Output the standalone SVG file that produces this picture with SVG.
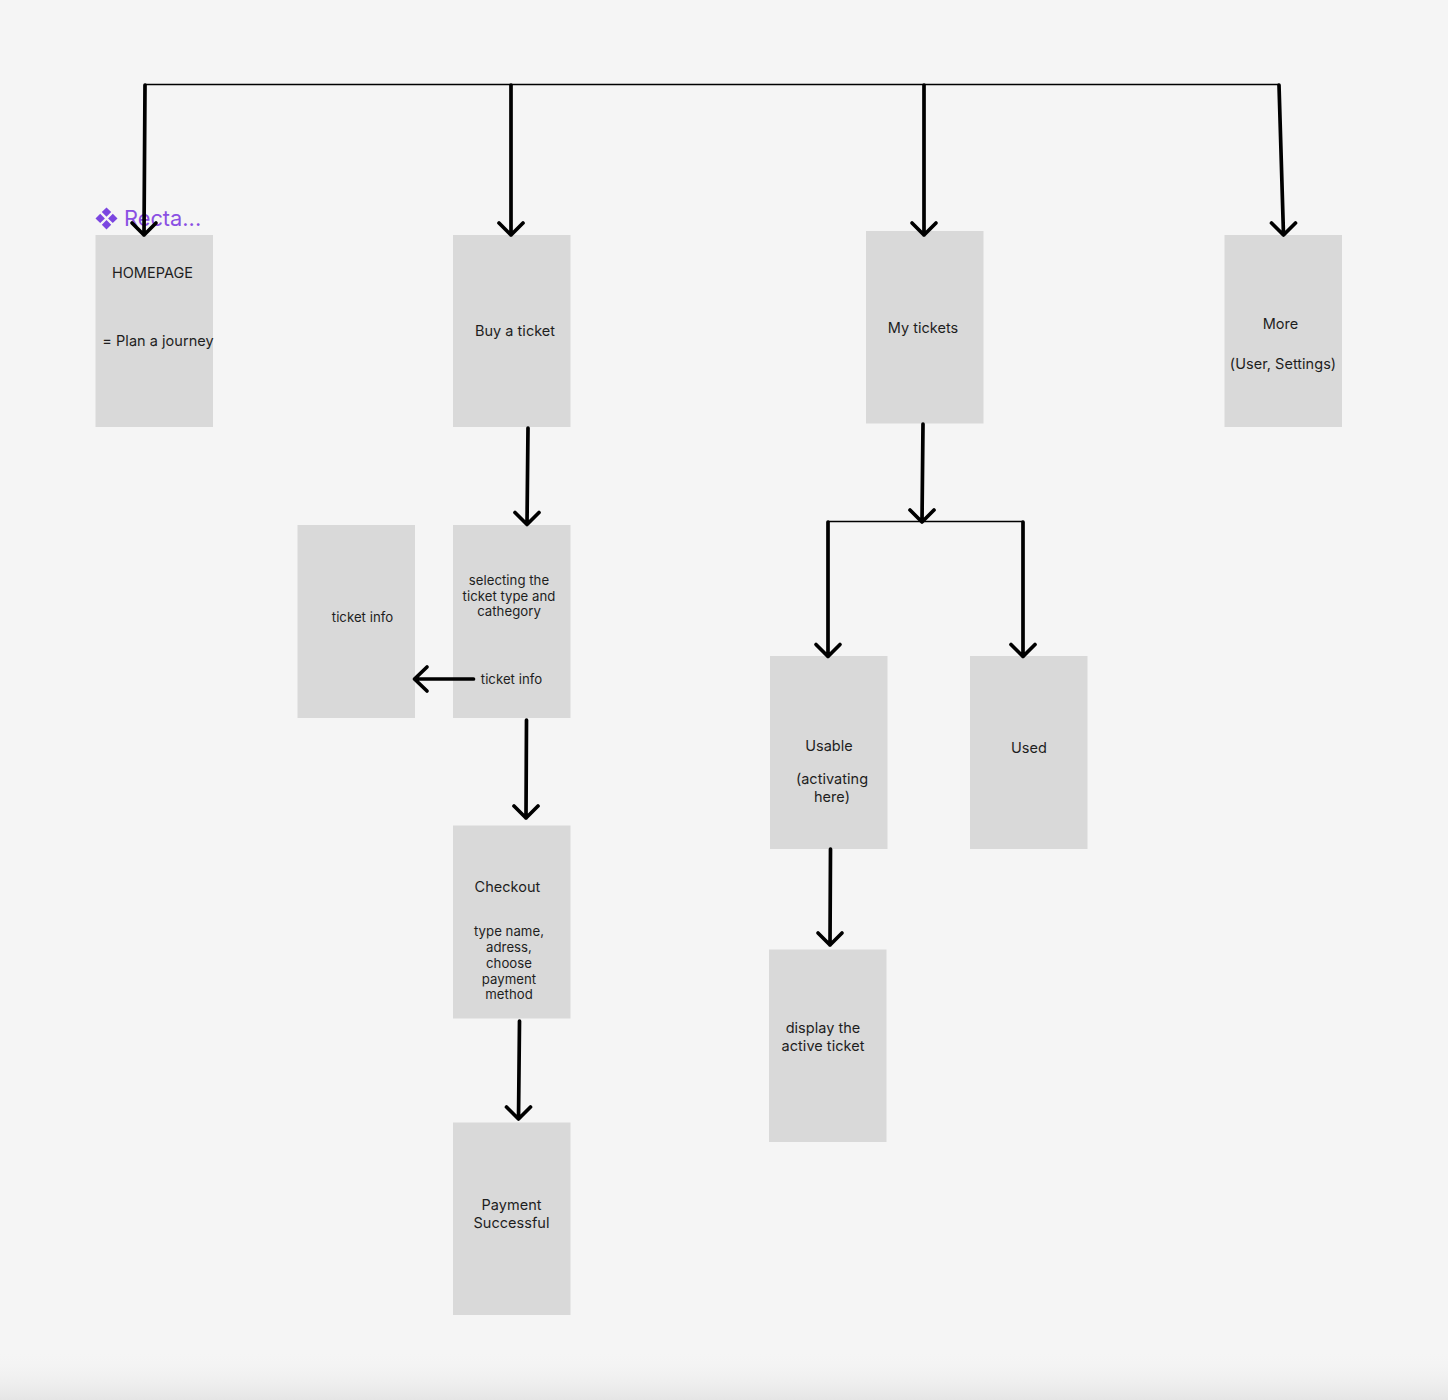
<svg xmlns="http://www.w3.org/2000/svg" width="1448" height="1400" viewBox="0 0 1448 1400">
<style>
.box{fill:#d9d9d9}
.t{font-family:Inter,"Liberation Sans",sans-serif;font-size:14.5px;fill:#1e1e1e;text-anchor:middle;letter-spacing:.03px}
.s{font-size:13.2px}
.thin{fill:none;stroke:#000;stroke-width:1.3;stroke-linecap:round;stroke-linejoin:round}
.a{fill:none;stroke:#000;stroke-width:3.7;stroke-linecap:round;stroke-linejoin:round}
</style>
<defs><linearGradient id="bg" x1="0" y1="0" x2="0" y2="1"><stop offset="0" stop-color="#f5f5f5" stop-opacity="0"/><stop offset="1" stop-color="#e5e5e5"/></linearGradient></defs>
<rect width="1448" height="1400" fill="#f5f5f5"/>
<rect y="1350" width="1448" height="50" fill="url(#bg)"/>
<g id="component-label">
<path d="M106.500 207.400l4.700 4.700-4.700 4.700-4.700-4.700zM100.200 213.700l4.700 4.700-4.700 4.700-4.700-4.700zM112.800 213.700l4.700 4.700-4.700 4.700-4.700-4.700zM106.500 220l4.700 4.700-4.700 4.700-4.700-4.700z" fill="#7b46e0"/>
<text x="124" y="226" font-family="Inter,'Liberation Sans',sans-serif" font-size="21.800" fill="#8a4fe3">Recta...</text>
</g>
<g id="homepage"><rect class="box" x="95.500" y="235" width="117.500" height="192"/><text class="t" x="152.500" y="278">HOMEPAGE</text><text class="t" x="158" y="346">= Plan a journey</text></g>
<g id="buy"><rect class="box" x="453" y="235" width="117.500" height="192"/><text class="t" x="515" y="336">Buy a ticket</text></g>
<g id="mytickets"><rect class="box" x="866" y="231" width="117.500" height="192.500"/><text class="t" x="923" y="332.500">My tickets</text></g>
<g id="more"><rect class="box" x="1224.500" y="235" width="117.500" height="192"/><text class="t" x="1280.500" y="329">More</text><text class="t" x="1283" y="369">(User, Settings)</text></g>
<g id="ticketinfo"><rect class="box" x="297.500" y="525" width="117.500" height="193"/><text class="t s" x="362.500" y="622">ticket info</text></g>
<g id="selecting"><rect class="box" x="453" y="525" width="117.500" height="193"/><text class="t s" x="509" y="585">selecting the</text><text class="t s" x="509" y="600.500">ticket type and</text><text class="t s" x="509" y="616">cathegory</text><text class="t s" x="511.500" y="684">ticket info</text></g>
<g id="checkout"><rect class="box" x="453" y="825.500" width="117.500" height="193"/><text class="t" x="507.500" y="892">Checkout</text><text class="t s" x="509" y="936">type name,</text><text class="t s" x="509" y="952">adress,</text><text class="t s" x="509" y="968">choose</text><text class="t s" x="509" y="984">payment</text><text class="t s" x="509" y="999">method</text></g>
<g id="payment"><rect class="box" x="453" y="1122.500" width="117.500" height="192.500"/><text class="t" x="511.500" y="1210">Payment</text><text class="t" x="511.500" y="1228">Successful</text></g>
<g id="usable"><rect class="box" x="770" y="656" width="117.500" height="193"/><text class="t" x="829" y="750.500">Usable</text><text class="t" x="832" y="784">(activating</text><text class="t" x="832" y="802">here)</text></g>
<g id="used"><rect class="box" x="970" y="656" width="117.500" height="193"/><text class="t" x="1029" y="753">Used</text></g>
<g id="display"><rect class="box" x="769" y="949.500" width="117.500" height="192.500"/><text class="t" x="823" y="1033">display the</text><text class="t" x="823" y="1051">active ticket</text></g>
<g id="connectors">
<path class="thin" d="M145 84.500H1279"/>
<path class="thin" d="M828 521.500H1023"/>
<path class="a" d="M145 85L144 235M132 223L144 235L156 223"/>
<path class="a" d="M511 85V235M499 223L511 235L523 223"/>
<path class="a" d="M924 85V235M912 223L924 235L936 223"/>
<path class="a" d="M1279 85L1283.500 235M1271.500 223L1283.500 235L1295.500 223"/>
<path class="a" d="M528 428L527 524.500M515 512.500L527 524.500L539 512.500"/>
<path class="a" d="M473.500 679H414.500M427 667L414.500 679L427 691"/>
<path class="a" d="M526.500 720L526 818M514 806L526 818L538 806"/>
<path class="a" d="M519.500 1021L518.500 1119M506.500 1107L518.500 1119L530.500 1107"/>
<path class="a" d="M923 424L922 522M910 510L922 522L934 510"/>
<path class="a" d="M828 522V656.500M816 644.500L828 656.500L840 644.500"/>
<path class="a" d="M1023 522V656.500M1011 644.500L1023 656.500L1035 644.500"/>
<path class="a" d="M830.500 849L830 945M818 933L830 945L842 933"/>
</g>
</svg>
